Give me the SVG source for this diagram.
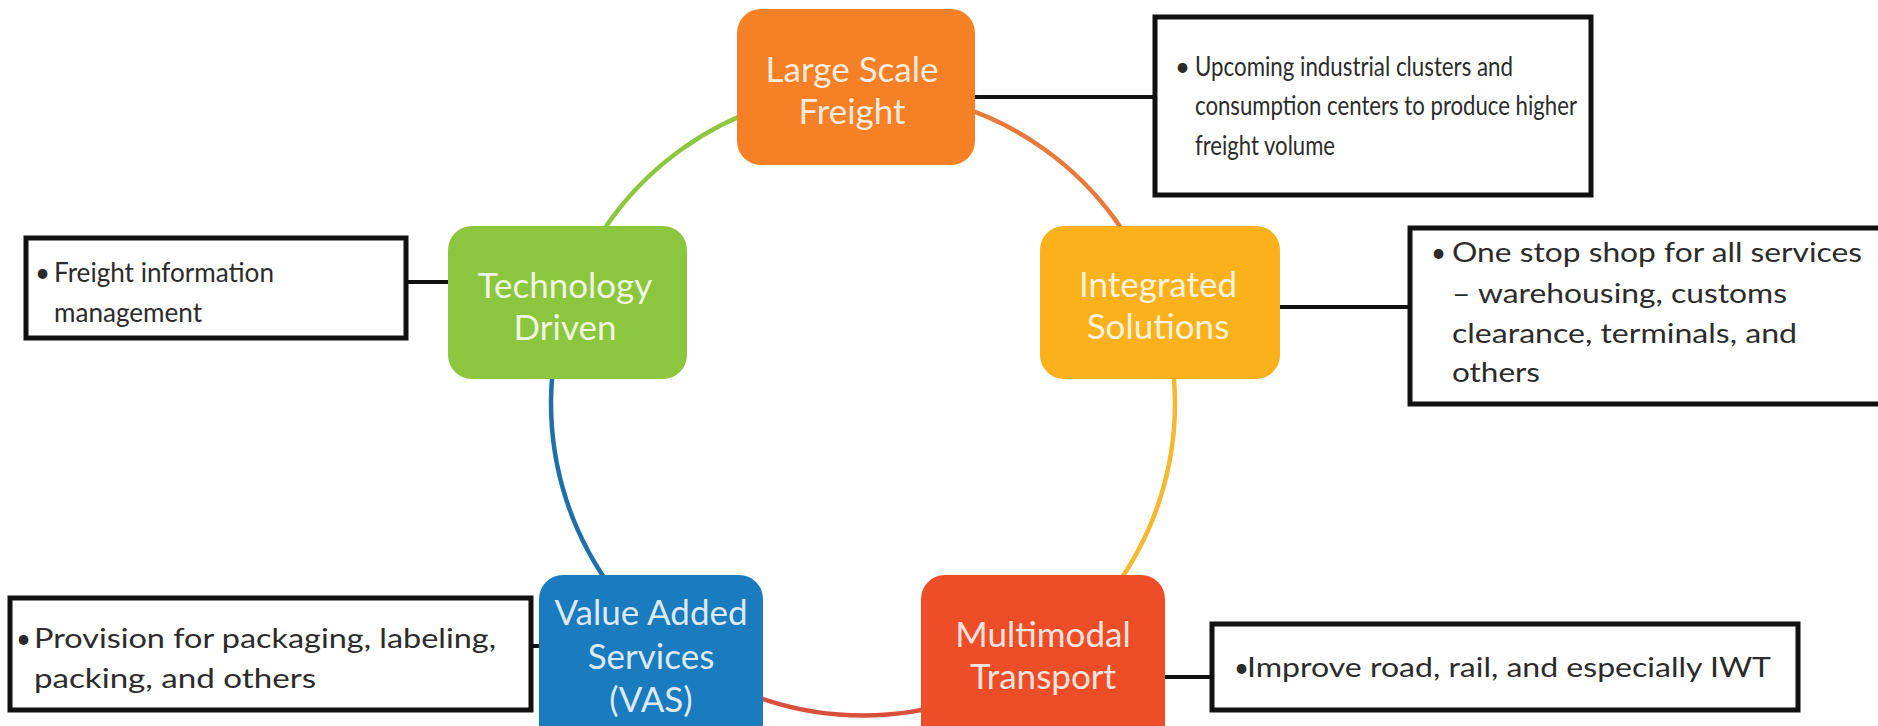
<svg xmlns="http://www.w3.org/2000/svg" width="1878" height="726" viewBox="0 0 1878 726">
<style>
.lbl{font-family:Lato,"Liberation Sans",sans-serif;font-size:35px;fill:#FFFFFF;fill-opacity:0.86;text-anchor:middle}
.txt{font-family:Lato,"Liberation Sans",sans-serif;font-size:26px;fill:#2B2B2B}
.note{fill:#FFFFFF;stroke:#111111;stroke-width:5}
.con{stroke:#111111;stroke-width:4;fill:none}
.ring{fill:none;stroke-width:4.5}
</style>
<rect width="1878" height="726" fill="#FFFFFF"/>
<g id="ring">
<path class="ring" stroke="#8DC63F" d="M568,302 A312,312 0 0 1 863,91"/>
<path class="ring" stroke="#E8793A" d="M863,91 A312,312 0 0 1 1158,302"/>
<path class="ring" stroke="#F5B82E" d="M1158,302 A312,312 0 0 1 1042,659"/>
<path class="ring" stroke="#D9503A" d="M1042,659 A312,312 0 0 1 684,659"/>
<path class="ring" stroke="#1F6FA8" d="M684,659 A312,312 0 0 1 568,302"/>
</g>
<g id="connectors">
<line class="con" x1="975" y1="97" x2="1155" y2="97"/>
<line class="con" x1="406" y1="282" x2="448" y2="282"/>
<line class="con" x1="1280" y1="307" x2="1410" y2="307"/>
<line class="con" x1="531" y1="646" x2="539" y2="646"/>
<line class="con" x1="1165" y1="677" x2="1212" y2="677"/>
</g>
<g id="large-scale-freight">
<rect x="737" y="9" width="238" height="156" rx="24" fill="#F58025"/>
<text class="lbl" x="852" y="82">Large Scale</text>
<text class="lbl" x="852" y="124">Freight</text>
</g>
<g id="technology-driven">
<rect x="448" y="226" width="239" height="153" rx="24" fill="#8CC63E"/>
<text class="lbl" x="565" y="298">Technology</text>
<text class="lbl" x="565" y="340">Driven</text>
</g>
<g id="integrated-solutions">
<rect x="1040" y="226" width="240" height="153" rx="24" fill="#FBB11B"/>
<text class="lbl" x="1158" y="297">Integrated</text>
<text class="lbl" x="1158" y="339">Solutions</text>
</g>
<g id="value-added-services">
<rect x="539" y="575" width="224" height="175" rx="24" fill="#1A7BBF"/>
<text class="lbl" x="651" y="625">Value Added</text>
<text class="lbl" x="651" y="669">Services</text>
<text class="lbl" x="651" y="712">(VAS)</text>
</g>
<g id="multimodal-transport">
<rect x="921" y="575" width="244" height="175" rx="24" fill="#EE4E27"/>
<text class="lbl" x="1043" y="647">Multimodal</text>
<text class="lbl" x="1043" y="689">Transport</text>
</g>
<g id="note-freight">
<rect class="note" x="1155" y="17" width="436" height="178"/>
<text class="txt" x="1175" y="76">•</text>
<text class="txt" x="1195" y="76" textLength="318" lengthAdjust="spacingAndGlyphs">Upcoming industrial clusters and</text>
<text class="txt" x="1195" y="115" textLength="382" lengthAdjust="spacingAndGlyphs">consumption centers to produce higher</text>
<text class="txt" x="1195" y="155" textLength="140" lengthAdjust="spacingAndGlyphs">freight volume</text>
</g>
<g id="note-technology">
<rect class="note" x="26" y="238" width="380" height="100"/>
<text class="txt" x="35" y="282">•</text>
<text class="txt" x="54" y="282" textLength="220" lengthAdjust="spacingAndGlyphs">Freight information</text>
<text class="txt" x="54" y="322" textLength="148" lengthAdjust="spacingAndGlyphs">management</text>
</g>
<g id="note-integrated">
<rect class="note" x="1410" y="228" width="480" height="176"/>
<text class="txt" x="1431" y="262">•</text>
<text class="txt" x="1452" y="262" textLength="410" lengthAdjust="spacingAndGlyphs">One stop shop for all services</text>
<text class="txt" x="1452" y="303" textLength="335" lengthAdjust="spacingAndGlyphs">– warehousing, customs</text>
<text class="txt" x="1452" y="343" textLength="345" lengthAdjust="spacingAndGlyphs">clearance, terminals, and</text>
<text class="txt" x="1452" y="382" textLength="88" lengthAdjust="spacingAndGlyphs">others</text>
</g>
<g id="note-vas">
<rect class="note" x="10" y="598" width="521" height="112"/>
<text class="txt" x="16" y="648">•</text>
<text class="txt" x="34" y="648" textLength="462" lengthAdjust="spacingAndGlyphs">Provision for packaging, labeling,</text>
<text class="txt" x="34" y="688" textLength="282" lengthAdjust="spacingAndGlyphs">packing, and others</text>
</g>
<g id="note-multimodal">
<rect class="note" x="1212" y="624" width="586" height="86"/>
<text class="txt" x="1234" y="677">•</text>
<text class="txt" x="1247" y="677" textLength="524" lengthAdjust="spacingAndGlyphs">Improve road, rail, and especially IWT</text>
</g>
</svg>
